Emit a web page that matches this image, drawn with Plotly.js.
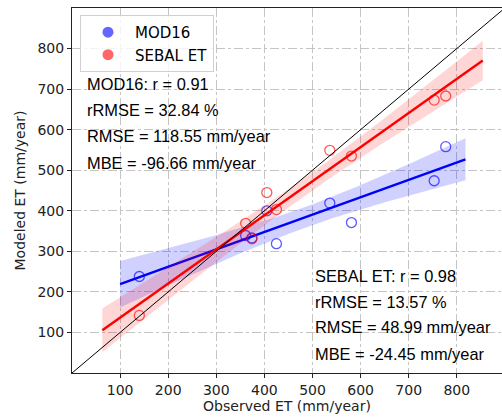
<!DOCTYPE html>
<html>
<head>
<meta charset="utf-8">
<script src="https://cdn.plot.ly/plotly-3.0.1.min.js"></script>
<style>html,body{margin:0;padding:0;background:#fff;}#chart{width:502px;height:418px;}</style>
</head>
<body>
<div id="chart"></div>
<script>
// Observed ET (mm/year) at the sites
const observed = [140, 361, 374, 405, 425, 536, 581, 753, 777];
// Modeled ET (mm/year)
const mod16 = [238, 339, 333, 400, 319, 419, 371, 474, 558];
const sebal = [142, 369, 331, 445, 403, 549, 535, 673, 683];
// x span covered by each regression line / band
const mod16FitRange = [100, 818];
const sebalFitRange = [63, 854];
const ciMult = 2.0;
const tickValues = [100, 200, 300, 400, 500, 600, 700, 800];
const oneToOne = [0, 900];
const mod16Stats = ["MOD16: r = 0.91", "rRMSE = 32.84 %", "RMSE = 118.55 mm/year", "MBE = -96.66 mm/year"];
const sebalStats = ["SEBAL ET: r = 0.98", "rRMSE = 13.57 %", "RMSE = 48.99 mm/year", "MBE = -24.45 mm/year"];

function fit(x, y, range) {
  const n = x.length;
  const mx = x.reduce((a, b) => a + b, 0) / n;
  const my = y.reduce((a, b) => a + b, 0) / n;
  let sxx = 0, sxy = 0;
  for (let i = 0; i < n; i++) { sxx += (x[i] - mx) ** 2; sxy += (x[i] - mx) * (y[i] - my); }
  const b = sxy / sxx, a = my - b * mx;
  let ssr = 0;
  for (let i = 0; i < n; i++) ssr += (y[i] - a - b * x[i]) ** 2;
  const s = Math.sqrt(ssr / (n - 2));
  const xs = [], ys = [], lo = [], hi = [];
  const steps = 60;
  for (let k = 0; k <= steps; k++) {
    const xv = range[0] + (range[1] - range[0]) * k / steps;
    const yv = a + b * xv;
    const se = s * Math.sqrt(1 / n + (xv - mx) ** 2 / sxx);
    xs.push(xv); ys.push(yv); lo.push(yv - ciMult * se); hi.push(yv + ciMult * se);
  }
  return {xs, ys, lo, hi};
}

function band(f, color) {
  return {x: f.xs.concat(f.xs.slice().reverse()), y: f.hi.concat(f.lo.slice().reverse()),
    type: 'scatter', mode: 'lines', fill: 'toself', fillcolor: color, line: {width: 0},
    hoverinfo: 'skip', showlegend: false};
}

const fb = fit(observed, mod16, mod16FitRange);
const fr = fit(observed, sebal, sebalFitRange);

const traces = [
  band(fb, 'rgba(0,0,255,0.18)'),
  {x: fb.xs, y: fb.ys, type: 'scatter', mode: 'lines', line: {color: '#0000ff', width: 2.4}, showlegend: false},
  {x: observed, y: mod16, type: 'scatter', mode: 'markers', showlegend: false,
   marker: {symbol: 'circle-open', size: 10, line: {width: 1.3}, color: 'rgba(0,0,255,0.65)'}},
  band(fr, 'rgba(255,0,0,0.16)'),
  {x: fr.xs, y: fr.ys, type: 'scatter', mode: 'lines', line: {color: '#ff0000', width: 2.4}, showlegend: false},
  {x: observed, y: sebal, type: 'scatter', mode: 'markers', showlegend: false,
   marker: {symbol: 'circle-open', size: 10, line: {width: 1.3}, color: 'rgba(255,0,0,0.65)'}},
  {x: oneToOne, y: oneToOne, type: 'scatter', mode: 'lines', line: {color: '#000', width: 1}, showlegend: false},
  {x: [null], y: [null], type: 'scatter', mode: 'markers', name: 'MOD16',
   marker: {symbol: 'circle', size: 11, color: 'rgba(0,0,255,0.6)'}},
  {x: [null], y: [null], type: 'scatter', mode: 'markers', name: 'SEBAL ET',
   marker: {symbol: 'circle', size: 11, color: 'rgba(255,0,0,0.6)'}}
];

const annFont = {family: 'Liberation Sans, Arial, sans-serif', size: 16.4, color: '#000'};
const annotations = [];
const modY = [0.792, 0.720, 0.648, 0.576];
const sebY = [0.265, 0.195, 0.125, 0.053];
mod16Stats.forEach((t, i) => annotations.push({xref: 'paper', yref: 'paper', x: 0.030, y: modY[i],
  xanchor: 'left', yanchor: 'middle', text: t, showarrow: false, font: annFont}));
sebalStats.forEach((t, i) => annotations.push({xref: 'paper', yref: 'paper', x: 0.561, y: sebY[i],
  xanchor: 'left', yanchor: 'middle', text: t, showarrow: false, font: annFont}));

const axisCommon = {
  showgrid: true, gridcolor: '#c4c4c4', griddash: 'dashdot', gridwidth: 1,
  zeroline: false, showline: true, linecolor: '#222', linewidth: 1,
  ticks: 'outside', ticklen: 4, tickcolor: '#222', tickvals: tickValues,
  tickfont: {family: 'DejaVu Sans', size: 14, color: '#222'}
};

const layout = {
  width: 502, height: 418,
  margin: {l: 72, r: 0, t: 8, b: 45},
  paper_bgcolor: '#fff', plot_bgcolor: '#fff',
  font: {family: 'DejaVu Sans', color: '#222'},
  showlegend: true,
  legend: {x: 0.0186, y: 0.981, xanchor: 'left', yanchor: 'top', itemwidth: 44,
    bgcolor: 'rgba(255,255,255,0.8)', bordercolor: '#d0d0d0', borderwidth: 1,
    font: {family: 'DejaVu Sans', size: 15, color: '#000'}},
  xaxis: Object.assign({}, axisCommon, {range: [0, 894], mirror: true,
    title: {text: 'Observed ET (mm/year)', font: {family: 'DejaVu Sans', size: 14, color: '#222'}, standoff: 4}}),
  yaxis: Object.assign({}, axisCommon, {range: [0, 900],
    title: {text: 'Modeled ET (mm/year)', font: {family: 'DejaVu Sans', size: 14, color: '#222'}, standoff: 8}}),
  annotations: annotations
};

Plotly.newPlot('chart', traces, layout, {displayModeBar: false, staticPlot: true});
</script>
</body>
</html>
